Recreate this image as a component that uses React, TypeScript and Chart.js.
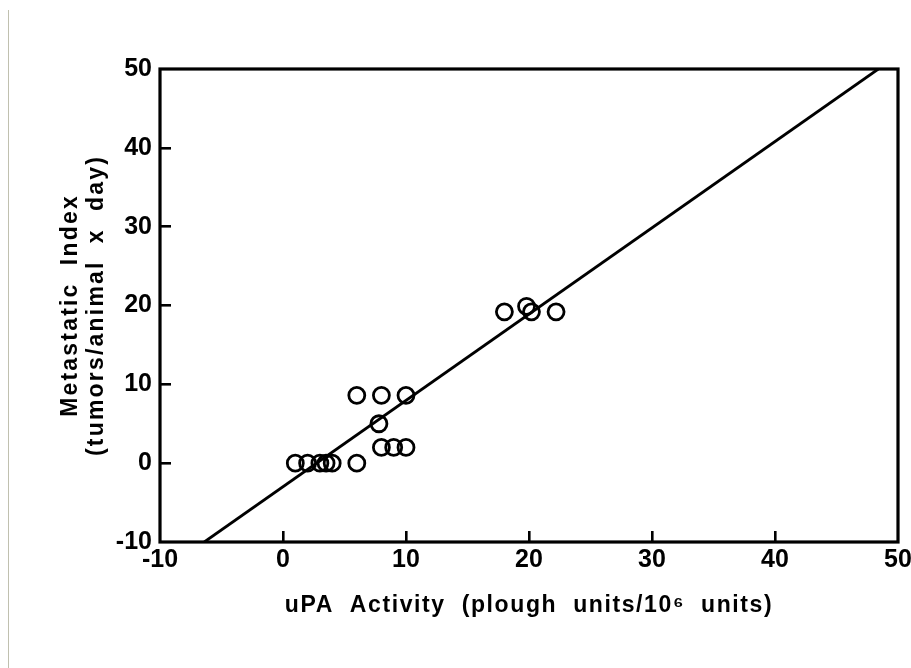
import React, { useEffect, useRef } from "react";
import { Chart, registerables } from "chart.js";

Chart.register(...registerables);

// ---- data ----
const pointX = [1, 2, 3, 3.5, 4, 6, 6, 8, 10, 7.8, 8, 9, 10, 18, 19.8, 20.2, 22.2];
const pointY = [0, 0, 0, 0, 0, 0, 8.6, 8.6, 8.6, 5, 2, 2, 2, 19.2, 19.9, 19.2, 19.2];
const fitX = [-6.4, 48.4];
const fitY = [-10, 50];
const xTicks = [-10, 0, 10, 20, 30, 40, 50];
const yTicks = [-10, 0, 10, 20, 30, 40, 50];
const xTitle = "uPA  Activity  (plough  units/10\u2076  units)";
const yTitle = ["Metastatic  Index", "(tumors/animal  x  day)"];

// ---- layout ----
const W = 911;
const H = 668;
const AREA = { left: 160, right: 898, top: 69, bottom: 542 };

const edgeless = (ctx: any) =>
  ctx.tick && (ctx.tick.value === -10 || ctx.tick.value === 50) ? "rgba(0,0,0,0)" : "#000";

const spacing: Record<string, string> = { x: "1.6px", y: "2.2px" };

const spacedTitles = {
  id: "spacedTitles",
  afterLayout(chart: any) {
    for (const id of ["x", "y"]) {
      const s: any = chart.scales[id];
      if (s && !s.__wrapped) {
        const orig = s.drawTitle.bind(s);
        s.drawTitle = function () {
          const c: any = this.ctx;
          c.save();
          c.letterSpacing = spacing[id];
          orig();
          c.restore();
        };
        s.__wrapped = true;
      }
    }
  },
};

const frame = {
  id: "frame",
  beforeDraw(chart: any) {
    const c = chart.ctx;
    c.save();
    c.fillStyle = "#fff";
    c.fillRect(0, 0, chart.width, chart.height);
    c.restore();
  },
  afterDraw(chart: any) {
    const c = chart.ctx;
    const a = chart.chartArea;
    c.save();
    c.strokeStyle = "#000";
    c.lineWidth = 3.2;
    c.strokeRect(a.left, a.top, a.right - a.left, a.bottom - a.top);
    c.strokeStyle = "rgba(140,140,110,0.55)";
    c.lineWidth = 1;
    c.beginPath();
    c.moveTo(8.5, 10);
    c.lineTo(8.5, H);
    c.stroke();
    c.restore();
  },
};

export default function App() {
  const ref = useRef<HTMLCanvasElement | null>(null);

  useEffect(() => {
    document.body.style.margin = "0";
    const canvas = ref.current;
    if (!canvas) return;
    const tickFont = { family: "'Liberation Sans', Arial, sans-serif", size: 25, weight: "bold" as const };
    const titleFont = { family: "'Liberation Sans', Arial, sans-serif", size: 23, weight: "bold" as const, lineHeight: "26px" };
    const chart = new Chart(canvas, {
      type: "scatter",
      data: {
        datasets: [
          {
            type: "scatter",
            data: pointX.map((x, i) => ({ x, y: pointY[i] })),
            pointStyle: "circle",
            pointRadius: 8,
            pointBorderWidth: 2.8,
            borderColor: "#000",
            backgroundColor: "rgba(0,0,0,0)",
          },
          {
            type: "line",
            data: fitX.map((x, i) => ({ x, y: fitY[i] })),
            borderColor: "#000",
            borderWidth: 2.8,
            pointRadius: 0,
            fill: false,
          } as any,
        ],
      },
      options: {
        animation: false,
        responsive: false,
        maintainAspectRatio: false,
        layout: { padding: { left: 0, top: AREA.top, right: W - AREA.right, bottom: 0 } },
        plugins: { legend: { display: false }, tooltip: { enabled: false } },
        scales: {
          x: {
            type: "linear",
            position: "bottom",
            min: -10,
            max: 50,
            afterBuildTicks: (s: any) => {
              s.ticks = xTicks.map((v) => ({ value: v }));
            },
            afterFit: (s: any) => {
              s.height = H - AREA.bottom;
              s.paddingLeft = 0;
              s.paddingRight = 0;
            },
            border: { display: false },
            grid: {
              drawOnChartArea: false,
              drawTicks: true,
              tickLength: -11,
              lineWidth: 2.6,
              color: edgeless,
              tickColor: edgeless,
            },
            ticks: {
              color: "#000",
              font: tickFont,
              padding: 14,
              autoSkip: false,
              maxRotation: 0,
              callback: (v: any) => String(v),
            },
            title: {
              display: true,
              text: xTitle,
              color: "#000",
              font: titleFont,
              padding: { top: 0, bottom: 49 },
            },
          },
          y: {
            type: "linear",
            position: "left",
            min: -10,
            max: 50,
            afterBuildTicks: (s: any) => {
              s.ticks = yTicks.map((v) => ({ value: v }));
            },
            afterFit: (s: any) => {
              s.width = AREA.left;
              s.paddingTop = 0;
              s.paddingBottom = 0;
            },
            border: { display: false },
            grid: {
              drawOnChartArea: false,
              drawTicks: true,
              tickLength: -11,
              lineWidth: 2.6,
              color: edgeless,
              tickColor: edgeless,
            },
            ticks: {
              color: "#000",
              font: tickFont,
              padding: 19,
              autoSkip: false,
              callback: (v: any) => String(v),
            },
            title: {
              display: true,
              text: yTitle,
              color: "#000",
              font: titleFont,
              padding: { top: 58, bottom: 0 },
            },
          },
        },
      },
      plugins: [frame, spacedTitles],
    });
    return () => chart.destroy();
  }, []);

  return (
    <div style={{ position: "absolute", left: 0, top: 0, width: W, height: H }}>
      <canvas ref={ref} width={W} height={H} style={{ width: W, height: H, display: "block" }} />
    </div>
  );
}
